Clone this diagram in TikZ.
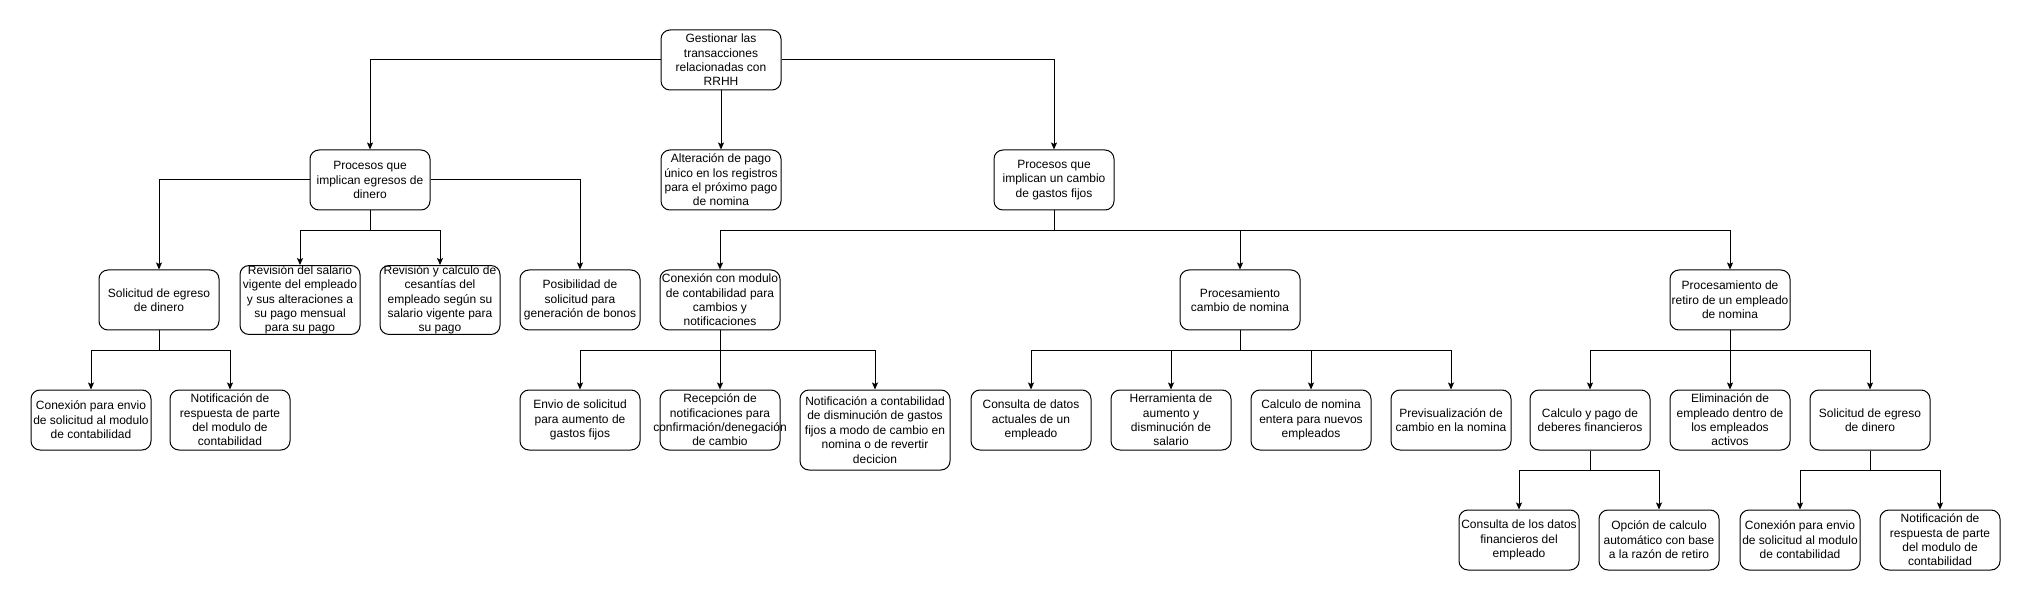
\documentclass[tikz,border=0pt]{standalone}
\usepackage{fontspec}
\setmainfont{Liberation Sans}
\usetikzlibrary{arrows.meta}

\begin{document}
\begin{tikzpicture}[x=1pt,y=-1pt,line width=1pt]
  % Local definitions
  \def\bus{20}

  % Styles
  \tikzstyle{task}=[draw,rounded corners=9pt,minimum width=120pt,minimum height=60pt,
                    inner sep=0pt,align=center,font=\fontsize{12}{14.4}\selectfont]
  \tikzstyle{wide task}=[task,minimum width=150pt,minimum height=80pt]
  \tikzstyle{link}=[-{Stealth[length=7pt,width=6pt,inset=1.5pt]}]

  \useasboundingbox (0,0) rectangle (2031,601);

  % Root
  \node[task] (root) at (721,60) {Gestionar las\\transacciones\\relacionadas con\\RRHH};

  % First level
  \node[task] (egresos)    at (370,180)  {Procesos que\\implican egresos de\\dinero};
  \node[task] (alteracion) at (721,180)  {Alteración de pago\\único en los registros\\para el próximo pago\\de nomina};
  \node[task] (gastos)     at (1054,180) {Procesos que\\implican un cambio\\de gastos fijos};

  % Second level
  \node[task] (solegreso)    at (159,300)  {Solicitud de egreso\\de dinero};
  \node[task] (revsalario)   at (300,300)  {Revisión del salario\\vigente del empleado\\y sus alteraciones a\\su pago mensual\\para su pago};
  \node[task] (revcesantias) at (440,300)  {Revisión y calculo de\\cesantías del\\empleado según su\\salario vigente para\\su pago};
  \node[task] (bonos)        at (580,300)  {Posibilidad de\\solicitud para\\generación de bonos};
  \node[task] (conexmod)     at (720,300)  {Conexión con modulo\\de contabilidad para\\cambios y\\notificaciones};
  \node[task] (procnomina)   at (1240,300) {Procesamiento\\cambio de nomina};
  \node[task] (procretiro)   at (1730,300) {Procesamiento de\\retiro de un empleado\\de nomina};

  % Third level
  \node[task] (conexenvio)  at (91,420)   {Conexión para envio\\de solicitud al modulo\\de contabilidad};
  \node[task] (notifresp)   at (230,420)  {Notificación de\\respuesta de parte\\del modulo de\\contabilidad};
  \node[task] (enviosol)    at (580,420)  {Envio de solicitud\\para aumento de\\gastos fijos};
  \node[task] (recepcion)   at (720,420)  {Recepción de\\notificaciones para\\\makebox[110pt]{confirmación/denegación}\\de cambio};
  \node[wide task] (notifconta) at (875,430) {Notificación a contabilidad\\de disminución de gastos\\fijos a modo de cambio en\\nomina o de revertir\\decicion};
  \node[task] (consdatos)   at (1031,420) {Consulta de datos\\actuales de un\\empleado};
  \node[task] (herramienta) at (1171,420) {Herramienta de\\aumento y\\disminución de\\salario};
  \node[task] (calcnomina)  at (1311,420) {Calculo de nomina\\entera para nuevos\\empleados};
  \node[task] (previs)      at (1451,420) {Previsualización de\\cambio en la nomina};
  \node[task] (calcpago)    at (1590,420) {Calculo y pago de\\deberes financieros};
  \node[task] (eliminacion) at (1730,420) {Eliminación de\\empleado dentro de\\los empleados\\activos};
  \node[task] (solegresoret) at (1870,420) {Solicitud de egreso\\de dinero};

  % Fourth level
  \node[task] (consfin)       at (1519,540) {Consulta de los datos\\financieros del\\empleado};
  \node[task] (opcalc)        at (1659,540) {Opción de calculo\\automático con base\\a la razón de retiro};
  \node[task] (conexenvioret) at (1800,540) {Conexión para envio\\de solicitud al modulo\\de contabilidad};
  \node[task] (notifrespret)  at (1940,540) {Notificación de\\respuesta de parte\\del modulo de\\contabilidad};

  % Connectors
  \draw[link] (root.west)  -| (egresos.north);
  \draw[link] (root.south) -- (alteracion.north);
  \draw[link] (root.east)  -| (gastos.north);

  \draw[link] (egresos.west) -| (solegreso.north);
  \draw[link] (egresos.east) -| (bonos.north);
  \draw[link] (egresos.south) -- ++(0,\bus) -| (revsalario.north);
  \draw[link] (egresos.south) -- ++(0,\bus) -| (revcesantias.north);

  \draw[link] (gastos.south) -- ++(0,\bus) -| (conexmod.north);
  \draw[link] (gastos.south) -- ++(0,\bus) -| (procnomina.north);
  \draw[link] (gastos.south) -- ++(0,\bus) -| (procretiro.north);

  \draw[link] (solegreso.south) -- ++(0,\bus) -| (conexenvio.north);
  \draw[link] (solegreso.south) -- ++(0,\bus) -| (notifresp.north);

  \draw[link] (conexmod.south) -- ++(0,\bus) -| (enviosol.north);
  \draw[link] (conexmod.south) -- (recepcion.north);
  \draw[link] (conexmod.south) -- ++(0,\bus) -| (notifconta.north);

  \draw[link] (procnomina.south) -- ++(0,\bus) -| (consdatos.north);
  \draw[link] (procnomina.south) -- ++(0,\bus) -| (herramienta.north);
  \draw[link] (procnomina.south) -- ++(0,\bus) -| (calcnomina.north);
  \draw[link] (procnomina.south) -- ++(0,\bus) -| (previs.north);

  \draw[link] (procretiro.south) -- ++(0,\bus) -| (calcpago.north);
  \draw[link] (procretiro.south) -- (eliminacion.north);
  \draw[link] (procretiro.south) -- ++(0,\bus) -| (solegresoret.north);

  \draw[link] (calcpago.south) -- ++(0,\bus) -| (consfin.north);
  \draw[link] (calcpago.south) -- ++(0,\bus) -| (opcalc.north);

  \draw[link] (solegresoret.south) -- ++(0,\bus) -| (conexenvioret.north);
  \draw[link] (solegresoret.south) -- ++(0,\bus) -| (notifrespret.north);

\end{tikzpicture}
\end{document}
